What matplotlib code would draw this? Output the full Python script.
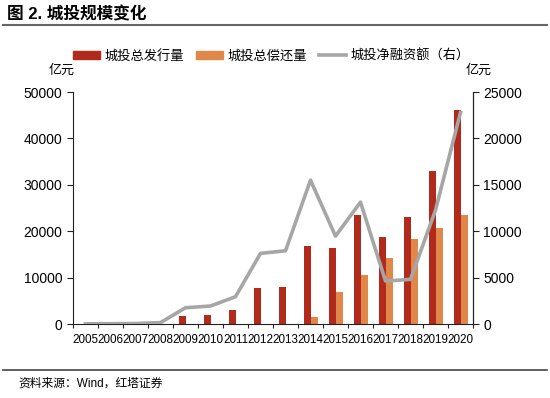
import matplotlib.pyplot as plt
import numpy as np
from matplotlib.lines import Line2D
from matplotlib.patches import Patch

plt.rcParams['font.family'] = ['Liberation Sans', 'Noto Sans CJK SC']

years = ['2005', '2006', '2007', '2008', '2009', '2010', '2011', '2012',
         '2013', '2014', '2015', '2016', '2017', '2018', '2019', '2020']
issue = [20, 30, 50, 150, 1790, 1930, 3010, 7670,
         7950, 16770, 16400, 23440, 18710, 23150, 32900, 46170]
repay = [0, 0, 0, 0, 0, 0, 0, 0,
         0, 1430, 6950, 10470, 14120, 18350, 20720, 23510]
net = [20, 30, 50, 150, 1750, 1940, 2940, 7610,
       7890, 15500, 9470, 13130, 4630, 4810, 12270, 22790]

c_issue = '#B22A1C'
c_repay = '#E0874A'
c_net = '#A6A6A6'

fig = plt.figure(figsize=(5.5, 3.98), dpi=100)
ax = fig.add_axes([73 / 550, 1 - 324 / 398, 400 / 550, 232 / 398])
ax2 = ax.twinx()

x = np.arange(len(years))
w = 0.28
ax.bar(x - w / 2, issue, width=w, color=c_issue, zorder=2)
ax.bar(x + w / 2, repay, width=w, color=c_repay, zorder=2)
ax2.plot(x, net, color=c_net, lw=2.6, zorder=3)

ax.set_xlim(-0.5, len(years) - 0.5)
ax.set_ylim(0, 50000)
ax2.set_ylim(0, 25000)
ax.set_yticks(np.arange(0, 50001, 10000))
ax2.set_yticks(np.arange(0, 25001, 5000))

# ticks on category boundaries, labels at centres
ax.set_xticks(np.arange(-0.5, len(years), 1))
ax.set_xticklabels([])
ax.set_xticks(x, minor=True)
ax.set_xticklabels(years, minor=True, fontsize=8.4)
ax.tick_params(axis='x', which='minor', length=0, pad=7)
ax.tick_params(axis='x', which='major', direction='out', length=3, color='#222222')

ax.tick_params(axis='y', direction='out', length=4, labelsize=10, color='#222222')
ax2.tick_params(axis='y', direction='out', length=4, labelsize=10, color='#222222')

for a in (ax, ax2):
    a.spines['top'].set_visible(False)
for s in ('left', 'bottom'):
    ax.spines[s].set_color('#222222')
    ax.spines[s].set_linewidth(0.8)
ax2.spines['right'].set_color('#222222')
ax2.spines['right'].set_linewidth(0.8)
ax2.spines['left'].set_visible(False)
ax2.spines['bottom'].set_visible(False)

fig.text(62 / 550, 1 - 71 / 398, '亿元', fontsize=9.4, ha='center', va='center')
fig.text(479 / 550, 1 - 71 / 398, '亿元', fontsize=9.4, ha='center', va='center')

handles = [Patch(color=c_issue), Patch(color=c_repay),
           Line2D([], [], color=c_net, lw=2.6)]
labels = ['城投总发行量', '城投总偿还量', '城投净融资额（右）']
fig.legend(handles, labels, loc='center', bbox_to_anchor=(271 / 550, 1 - 56 / 398),
           ncol=3, frameon=False, fontsize=9.5, handlelength=2.1, handleheight=0.5,
           handletextpad=0.3, columnspacing=0.9)

fig.text(7 / 550, 1 - 14 / 398, '图 2. 城投规模变化', fontsize=12,
         fontweight='bold', ha='left', va='center')
fig.add_artist(Line2D([3 / 550, 547 / 550], [1 - 25 / 398] * 2,
                      color='#666666', lw=1.5))
fig.add_artist(Line2D([3 / 550, 547 / 550], [1 - 370 / 398] * 2,
                      color='#444444', lw=1.2))
fig.text(18 / 550, 1 - 384 / 398, '资料来源：Wind，红塔证券', fontsize=8.5,
         ha='left', va='center')

fig.savefig('out.png', dpi=100)
